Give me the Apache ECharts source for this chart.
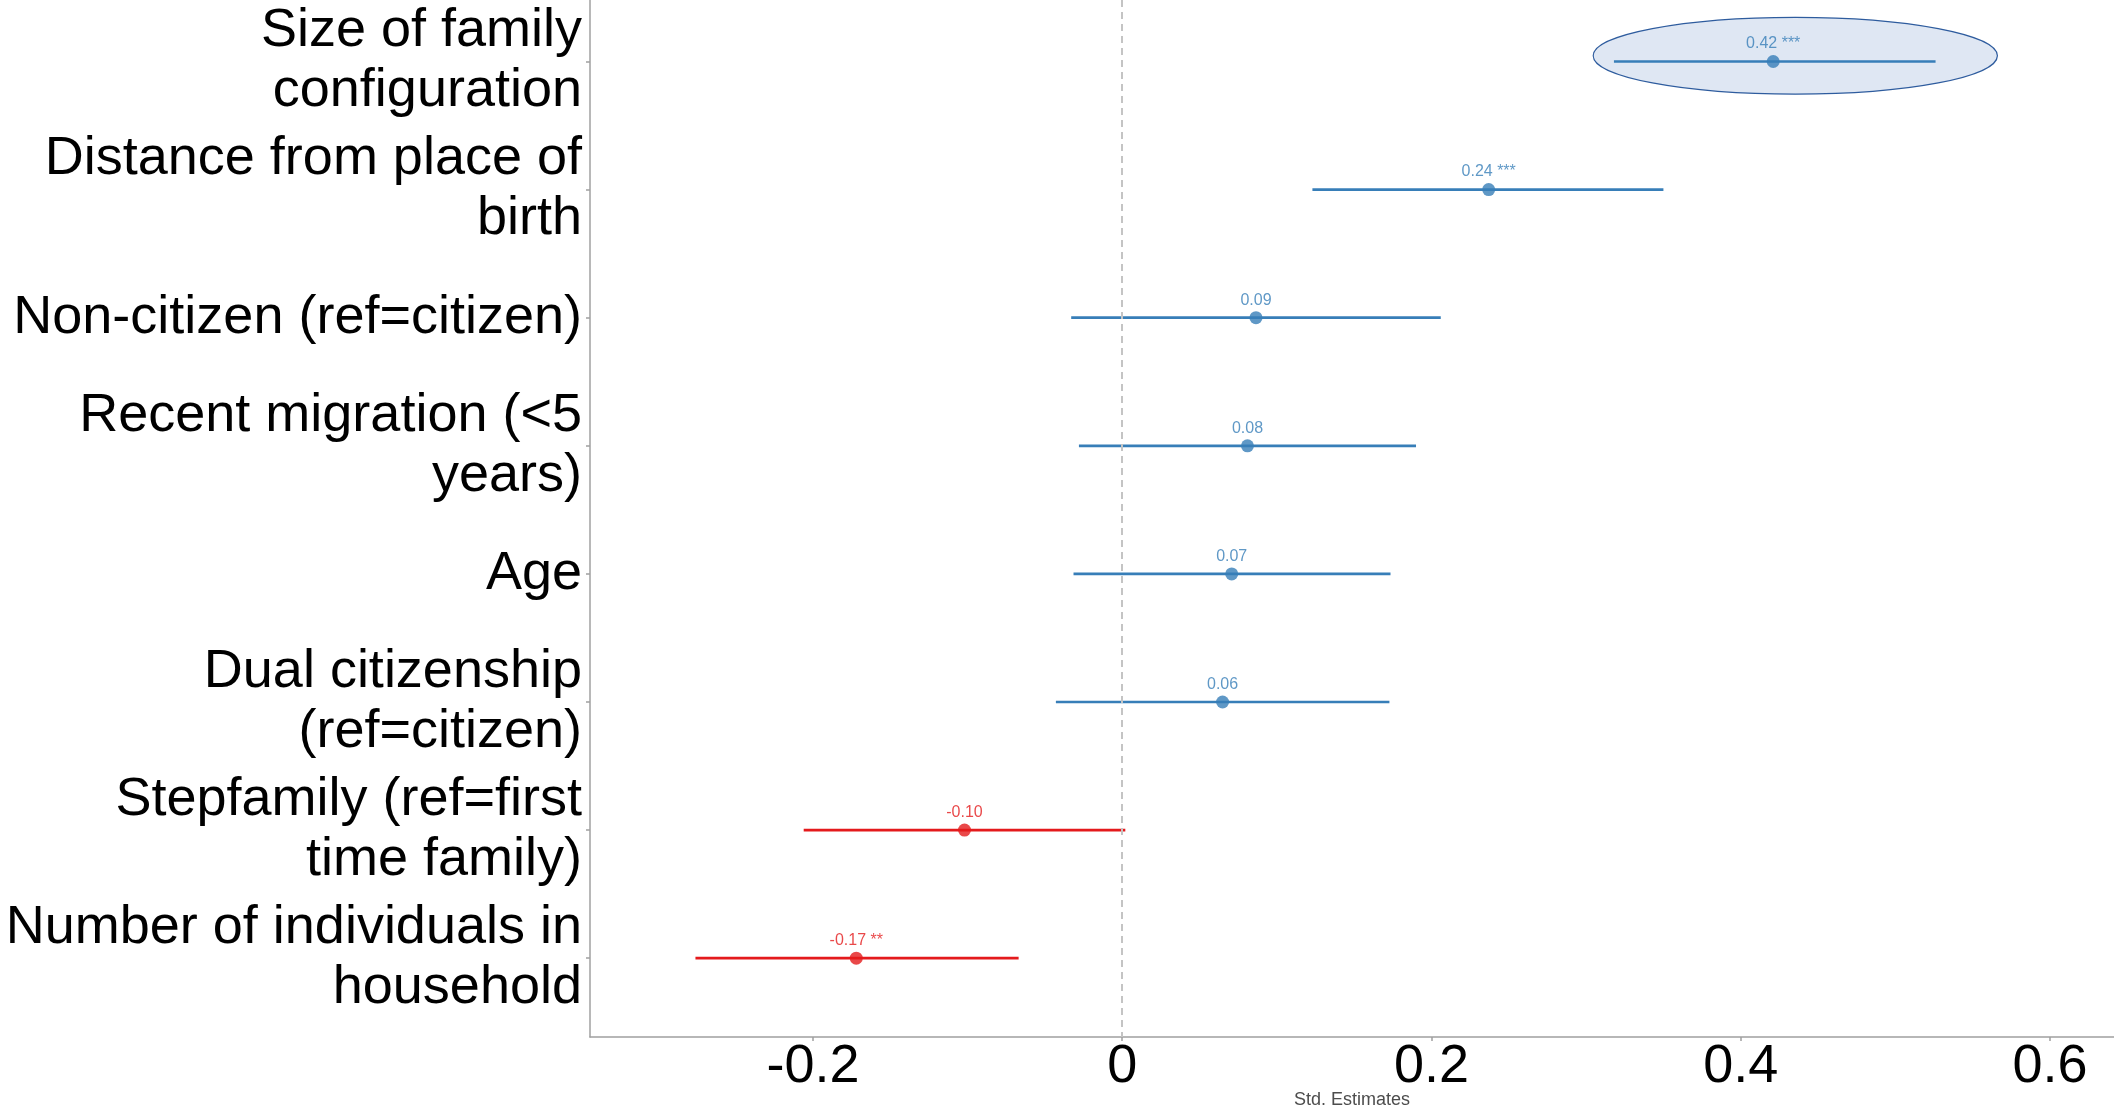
<!DOCTYPE html>
<html>
<head>
<meta charset="utf-8">
<script src="https://cdn.jsdelivr.net/npm/echarts@6/dist/echarts.min.js"></script>
<style>
html,body{margin:0;padding:0;background:#fff;overflow:hidden;}
#chart{width:2114px;height:1112px;}
</style>
</head>
<body>
<div id="chart"></div>
<script>
// ---- data ----
const categories = [
  'Size of family\nconfiguration',
  'Distance from place of\nbirth',
  'Non-citizen (ref=citizen)',
  'Recent migration (<5\nyears)',
  'Age',
  'Dual citizenship\n(ref=citizen)',
  'Stepfamily (ref=first\ntime family)',
  'Number of individuals in\nhousehold'
];
const estimates = [0.421, 0.237, 0.0865, 0.081, 0.0708, 0.0649, -0.102, -0.172];
const ciLow     = [0.318, 0.123, -0.033, -0.028, -0.0315, -0.0429, -0.206, -0.276];
const ciHigh    = [0.526, 0.350, 0.206, 0.190, 0.1735, 0.1728, 0.002, -0.067];
const pointLabels = ['0.42 ***', '0.24 ***', '0.09', '0.08', '0.07', '0.06', '-0.10', '-0.17 **'];
const xTicks = [-0.2, 0, 0.2, 0.4, 0.6];
const xTickLabels = ['-0.2', '0', '0.2', '0.4', '0.6'];
// highlight ellipse around first term (data units: center x, row, half-width, half-height)
const highlight = [[0.4353, -0.045, 0.1307, 0.30]];

const BLUE = '#377eb8', RED = '#e41a1c';
const FONT = '"Liberation Sans", Arial, Helvetica, sans-serif';
const colorOf = v => v >= 0 ? BLUE : RED;
const rowIdx = categories.map((_, i) => i);

const chart = echarts.init(document.getElementById('chart'), null, {renderer: 'canvas'});
chart.setOption({
  animation: false,
  backgroundColor: '#fff',
  textStyle: {fontFamily: FONT},
  grid: {left: 590, right: 0, top: 0, bottom: 75, containLabel: false, outerBoundsMode: 'none'},
  xAxis: {
    type: 'value',
    min: -0.3442, max: 0.6414,
    name: 'Std. Estimates',
    nameLocation: 'middle',
    nameGap: 54,
    nameMoveOverlap: false,
    nameTextStyle: {fontFamily: FONT, fontSize: 18, color: '#4d4d4d'},
    splitLine: {show: false},
    axisLine: {show: true, onZero: false, lineStyle: {color: '#a0a0a0', width: 1.5}},
    axisTick: {show: true, length: 4, customValues: xTicks, lineStyle: {color: '#a0a0a0', width: 1.5}},
    axisLabel: {
      customValues: xTicks,
      margin: 3,
      fontFamily: FONT, fontSize: 54, color: '#000',
      formatter: v => { const k = xTicks.findIndex(t => Math.abs(t - v) < 1e-9); return k >= 0 ? xTickLabels[k] : ''; }
    }
  },
  yAxis: {
    type: 'value',
    inverse: true,
    min: -0.48, max: 7.615,
    splitLine: {show: false},
    axisLine: {show: true, onZero: false, lineStyle: {color: '#a0a0a0', width: 1.5}},
    axisTick: {show: true, length: 4, customValues: rowIdx, lineStyle: {color: '#a0a0a0', width: 1.5}},
    axisLabel: {
      customValues: rowIdx,
      margin: 8,
      fontFamily: FONT, fontSize: 54, lineHeight: 60, color: '#000', align: 'right',
      formatter: v => categories[Math.round(v)] || ''
    }
  },
  series: [
    {
      type: 'custom',
      z: 1,
      silent: true,
      data: highlight,
      renderItem: (params, api) => {
        const c = api.coord([api.value(0), api.value(1)]);
        const r = api.coord([api.value(0) + api.value(2), api.value(1) + api.value(3)]);
        return {
          type: 'ellipse',
          shape: {cx: c[0], cy: c[1], rx: Math.abs(r[0] - c[0]), ry: Math.abs(r[1] - c[1])},
          style: {fill: '#dfe7f3', stroke: '#2e5c9e', lineWidth: 1.2}
        };
      }
    },
    {
      type: 'custom',
      z: 2,
      silent: true,
      data: estimates.map((e, i) => [ciLow[i], ciHigh[i], i, e]),
      encode: {x: [0, 1], y: 2},
      renderItem: (params, api) => {
        const a = api.coord([api.value(0), api.value(2)]);
        const b = api.coord([api.value(1), api.value(2)]);
        return {
          type: 'line',
          shape: {x1: a[0], y1: a[1], x2: b[0], y2: b[1]},
          style: {stroke: colorOf(api.value(3)), lineWidth: 2.7}
        };
      },
      markLine: {
        silent: true,
        symbol: 'none',
        label: {show: false},
        lineStyle: {color: '#c4c4c4', type: [7, 5], width: 2},
        data: [{xAxis: 0}]
      }
    },
    {
      type: 'scatter',
      z: 3,
      symbol: 'circle',
      symbolSize: 13,
      data: estimates.map((e, i) => ({
        value: [e, i],
        itemStyle: {color: colorOf(e)},
        label: {color: colorOf(e), formatter: pointLabels[i]}
      })),
      label: {
        show: true,
        position: 'top',
        distance: 3,
        fontFamily: FONT,
        fontSize: 16
      }
    }
  ]
});
</script>
</body>
</html>
